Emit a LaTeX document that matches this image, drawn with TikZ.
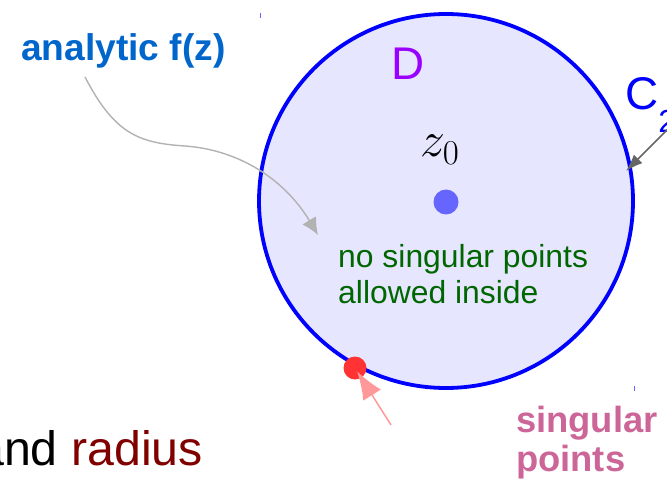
\documentclass[tikz,border=0pt]{standalone}
\usepackage{fix-cm}
\usepackage{fontspec}
\setmainfont{Liberation Sans}
\usetikzlibrary{positioning,arrows.meta}
\definecolor{fzc}{RGB}{0,102,204}
\definecolor{dreg}{RGB}{153,0,255}
\definecolor{rim}{RGB}{0,0,255}
\definecolor{inside}{RGB}{230,230,255}
\definecolor{zdot}{RGB}{102,102,255}
\definecolor{okc}{RGB}{0,102,0}
\definecolor{singc}{RGB}{204,102,153}
\definecolor{sdot}{RGB}{255,51,51}
\definecolor{sarr}{RGB}{255,153,153}
\definecolor{radc}{RGB}{128,0,0}

\begin{document}
\begin{tikzpicture}[x=1bp,y=-1bp,
  lbl/.style={inner sep=0pt,anchor=base west,align=left},
  disk/.style={circle,draw=rim,line width=3.8bp,fill=inside,minimum size=374bp,inner sep=0pt},
  pt/.style={circle,inner sep=0pt,draw=none}]
  \useasboundingbox (0,0) rectangle (667,480);
  \clip (0,0) rectangle (667,480);
  % the region D and its rim
  \node[disk] (D) at (446,201) {};
  \node[pt,fill=zdot,minimum size=25bp] (z0) at (446,202) {};
  \node[pt,fill=sdot,minimum size=23bp] (sing) at (355,368) {};
  \node[lbl,text=dreg,font=\fontsize{46}{46}\selectfont] (dlab) at (391,80) {D};
  \node[lbl,font=\fontsize{50}{50}\selectfont] (zlab) at (420,157) {$z_0$};
  \node[lbl,text=rim,font=\fontsize{46}{46}\selectfont] (clab) at (625,110)
    {C\raisebox{-23bp}{\fontsize{32}{32}\selectfont 2}};
  % texts round it (base of a two-line node is its last line)
  \node[lbl,text=fzc,font=\bfseries\fontsize{37.3}{37.3}\selectfont] (fz) at (21,61) {analytic f(z)};
  \node[lbl,text=okc,font=\fontsize{32}{36}\selectfont] (noin) at (338,303)
    {no singular points\\allowed inside};
  \node[lbl,text=singc,font=\bfseries\fontsize{36.5}{39}\selectfont] (slab) at (516,471)
    {singular\\points};
  \node[lbl,font=\fontsize{48.5}{48.5}\selectfont] (rad) at (-23,465) {and \textcolor{radc}{radius}};
  % pointers
  \coordinate (fzs) at (85,77);
  \coordinate (fze) at (318,235);
  \coordinate (cs) at (670,127);
  \coordinate (ce) at (626,171);
  \coordinate (ss) at (391,425);
  \draw[-{Latex[length=17bp,width=16bp]},black!30,line width=1.4bp]
    (fzs) .. controls (115,135) and (140,143) .. (185,146)
          .. controls (240,150) and (285,180) .. (fze);
  \draw[-{Latex[length=17bp,width=12bp]},black!60,line width=1.5bp] (cs)--(ce);
  \draw[-{Latex[length=28bp,width=21bp]},sarr,line width=1.5bp,shorten >=4bp]
    (ss)--(sing.center);
  % small marks left on the slide
  \draw[zdot,line width=1bp] (260,13)--(260,18);
  \draw[zdot,line width=1bp] (634,386)--(634,391);
\end{tikzpicture}
\end{document}
